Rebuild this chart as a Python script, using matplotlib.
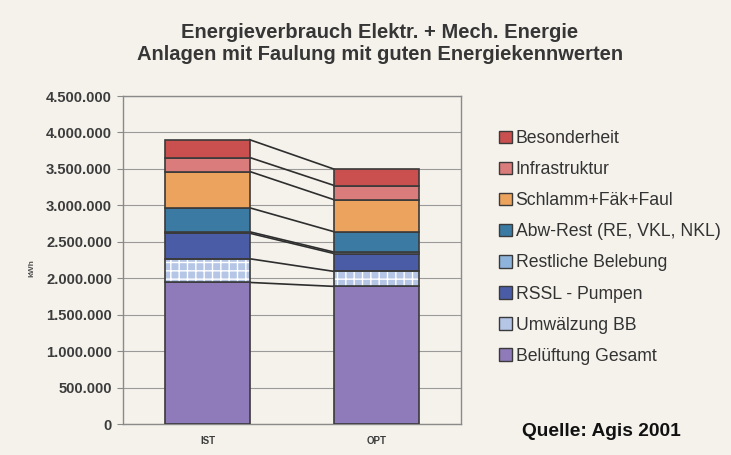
import matplotlib
matplotlib.use("Agg")
import matplotlib.pyplot as plt
from matplotlib.patches import Patch
import numpy as np

categories = ["IST", "OPT"]
series = ["Belüftung Gesamt", "Umwälzung BB", "RSSL - Pumpen", "Restliche Belebung",
          "Abw-Rest (RE, VKL, NKL)", "Schlamm+Fäk+Faul", "Infrastruktur", "Besonderheit"]
values = {
    "Belüftung Gesamt":        [1942000, 1888000],
    "Umwälzung BB":            [325000, 205000],
    "RSSL - Pumpen":           [350000, 245000],
    "Restliche Belebung":      [20000, 20000],
    "Abw-Rest (RE, VKL, NKL)": [329000, 279000],
    "Schlamm+Fäk+Faul":        [498000, 439000],
    "Infrastruktur":           [192000, 196000],
    "Besonderheit":            [244000, 224000],
}
colors = {
    "Belüftung Gesamt": "#8f7bba",
    "Umwälzung BB": "#b5c5e6",
    "RSSL - Pumpen": "#4b5ca6",
    "Restliche Belebung": "#8fb4dc",
    "Abw-Rest (RE, VKL, NKL)": "#3b7aa3",
    "Schlamm+Fäk+Faul": "#eba35e",
    "Infrastruktur": "#da7c7b",
    "Besonderheit": "#c9504f",
}
yticks = [0, 500000, 1000000, 1500000, 2000000, 2500000, 3000000, 3500000, 4000000, 4500000]

bg = "#f5f2ec"
edge = "#3a3a3a"
plt.rcParams['font.family'] = ['Liberation Sans', 'DejaVu Sans']

fig = plt.figure(figsize=(7.31, 4.55), dpi=100, facecolor=bg)
ax = fig.add_axes([123/731, 31/455, 338/731, 328/455])
ax.set_facecolor(bg)

x = np.arange(len(categories))
w = 0.5
bottom = np.zeros(len(categories))
bounds = []
for s in series:
    v = np.array(values[s], dtype=float)
    if s == "Umwälzung BB":
        ax.bar(x, v, w, bottom=bottom, color=colors[s], edgecolor="white",
               hatch="++", linewidth=0, zorder=3)
        ax.bar(x, v, w, bottom=bottom, fill=False, edgecolor=edge, linewidth=1.2, zorder=4)
    else:
        ax.bar(x, v, w, bottom=bottom, color=colors[s], edgecolor=edge, linewidth=1.2, zorder=3)
    bottom = bottom + v
    bounds.append(bottom.copy())

for b in bounds:
    ax.plot([x[0] + w/2, x[1] - w/2], [b[0], b[1]], color="#2e2e2e", lw=1.2, zorder=2)

ax.set_xlim(-0.5, 1.5)
ax.set_ylim(0, 4500000)
ax.set_yticks(yticks)
ax.set_yticklabels([f"{t:,}".replace(",", ".") for t in yticks],
                   fontsize=10.6, fontweight="bold", color="#3c3c3c")
ax.set_xticks(x)
ax.set_xticklabels(categories, fontsize=7, fontweight="bold", color="#3c3c3c")
ax.grid(axis="y", color="#9a9a9a", lw=0.8, zorder=0)
for sp in ax.spines.values():
    sp.set_color("#8a8a8a")
    sp.set_linewidth(1.0)
ax.tick_params(axis="y", length=4.3, color="#8a8a8a", pad=3.6)
ax.tick_params(axis="x", length=0, pad=9)

fig.text(32/731, 1 - 268/455, "kWh", rotation=90, ha="center", va="center",
         fontsize=6, fontweight="bold", color="#555555")

fig.text(380/731, 1 - 32/455, "Energieverbrauch Elektr. + Mech. Energie", ha="center", va="center",
         fontsize=14.5, fontweight="bold", color="#363636")
fig.text(380/731, 1 - 54/455, "Anlagen mit Faulung mit guten Energiekennwerten", ha="center", va="center",
         fontsize=14.5, fontweight="bold", color="#363636")

handles = [Patch(facecolor=colors[s], edgecolor=edge, linewidth=1.0) for s in series[::-1]]
leg = fig.legend(handles, series[::-1], loc="upper left", bbox_to_anchor=(499/731, 1 - 130/455),
                 frameon=False, fontsize=12.7, handlelength=0.72, handleheight=0.72,
                 handletextpad=0.22, labelspacing=0.8, borderaxespad=0, borderpad=0)
for t in leg.get_texts():
    t.set_color("#333333")

fig.text(522/731, 1 - 432/455, "Quelle: Agis 2001", ha="left", va="center",
         fontsize=13.8, fontweight="bold", color="#111111")

fig.savefig("out.png", dpi=100, facecolor=bg)
